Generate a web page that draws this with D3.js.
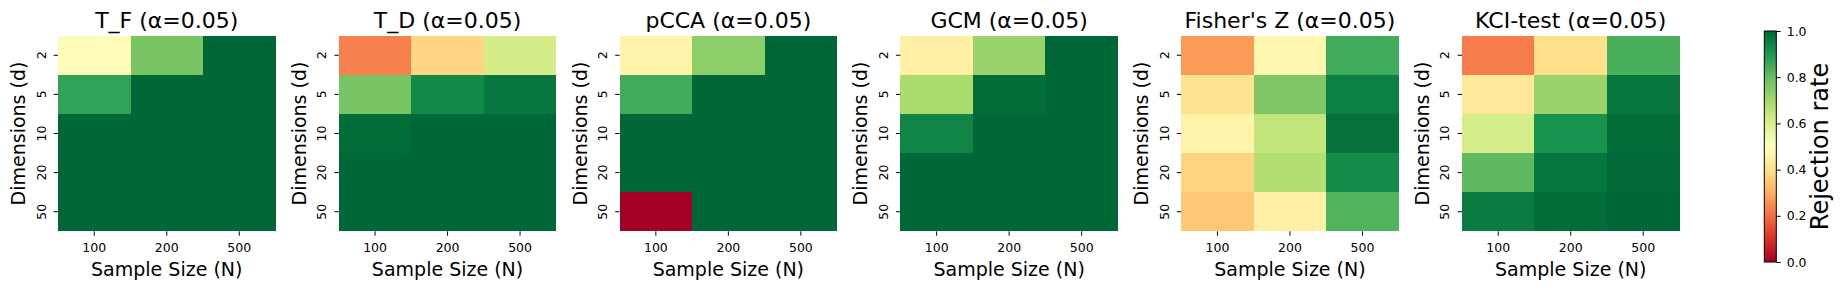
<!DOCTYPE html>
<html>
<head>
<meta charset="utf-8">
<script src="https://cdn.jsdelivr.net/npm/d3@7"></script>
<style>
  body { margin: 0; background: #fff; }
  text { font-family: "DejaVu Sans", sans-serif; fill: #000; }
  .tick text { font-size: 12.5px; }
</style>
</head>
<body>
<div id="chart"></div>
<script>
// sample sizes (columns) and dimensions (rows)
var sampleSizes = ["100", "200", "500"];
var dimensions = ["2", "5", "10", "20", "50"];
var methods = ["T_F", "T_D", "pCCA", "GCM", "Fisher's Z", "KCI-test"];

// rejection rates, one row per dimension
var tfRates = [
  [0.49, 0.77, 1.00],
  [0.87, 1.00, 1.00],
  [1.00, 1.00, 1.00],
  [1.00, 1.00, 1.00],
  [1.00, 1.00, 1.00]
];
var tdRates = [
  [0.23, 0.38, 0.61],
  [0.77, 0.93, 0.97],
  [0.99, 1.00, 1.00],
  [1.00, 1.00, 1.00],
  [1.00, 1.00, 1.00]
];
var pccaRates = [
  [0.46, 0.74, 1.00],
  [0.85, 1.00, 1.00],
  [1.00, 1.00, 1.00],
  [1.00, 1.00, 1.00],
  [0.00, 1.00, 1.00]
];
var gcmRates = [
  [0.45, 0.72, 1.00],
  [0.69, 0.99, 1.00],
  [0.94, 1.00, 1.00],
  [1.00, 1.00, 1.00],
  [1.00, 1.00, 1.00]
];
var fisherRates = [
  [0.27, 0.47, 0.85],
  [0.41, 0.76, 0.95],
  [0.46, 0.645, 0.98],
  [0.376, 0.676, 0.927],
  [0.35, 0.45, 0.826]
];
var kciRates = [
  [0.225, 0.40, 0.837],
  [0.43, 0.72, 0.97],
  [0.606, 0.91, 0.99],
  [0.81, 0.97, 0.995],
  [0.96, 0.99, 1.00]
];
var allRates = [tfRates, tdRates, pccaRates, gcmRates, fisherRates, kciRates];
var colorbarTicks = [0, 0.2, 0.4, 0.6, 0.8, 1.0];

// matplotlib RdYlGn stops
var rdylgn = ["#a50026", "#d73027", "#f46d43", "#fdae61", "#fee08b", "#ffffbf",
              "#d9ef8b", "#a6d96a", "#66bd63", "#1a9850", "#006837"];
var color = d3.scaleLinear()
    .domain(d3.range(11).map(function(i) { return i / 10; }))
    .range(rdylgn)
    .interpolate(d3.interpolateRgb)
    .clamp(true);

var width = 1846, height = 290;
var heatTop = 35.7, heatBottom = 231.3;

var svg = d3.select("#chart")
    .append("svg")
    .attr("width", width)
    .attr("height", height);

var panel = d3.scaleBand()
    .domain(methods)
    .range([58, 1679.5])
    .paddingInner(0.2254)
    .paddingOuter(0);

var x = d3.scaleBand().domain(sampleSizes).range([0, panel.bandwidth()]);
var y = d3.scaleBand().domain(dimensions).range([heatTop, heatBottom]);

methods.forEach(function(m, k) {
    var g = svg.append("g")
        .attr("transform", "translate(" + panel(m) + ",0)");

    var cells = [];
    allRates[k].forEach(function(row, i) {
        row.forEach(function(v, j) {
            cells.push({ dim: dimensions[i], n: sampleSizes[j], value: v });
        });
    });

    g.selectAll("rect.cell")
        .data(cells)
        .enter()
        .append("rect")
        .attr("class", "cell")
        .attr("x", function(d) { return x(d.n); })
        .attr("y", function(d) { return y(d.dim); })
        .attr("width", x.bandwidth())
        .attr("height", y.bandwidth())
        .attr("shape-rendering", "crispEdges")
        .style("fill", function(d) { return color(d.value); });

    // x axis
    var xAxis = g.append("g")
        .attr("transform", "translate(0," + heatBottom + ")")
        .call(d3.axisBottom(x).tickSize(4.4).tickSizeOuter(0).tickPadding(7.7));
    xAxis.select(".domain").remove();
    xAxis.selectAll("line").attr("stroke", "#000").attr("stroke-width", 1);

    // y axis, labels turned on their side like seaborn
    var yAxis = g.append("g")
        .call(d3.axisLeft(y).tickSize(4.4).tickSizeOuter(0));
    yAxis.select(".domain").remove();
    yAxis.selectAll("line").attr("stroke", "#000").attr("stroke-width", 1);
    yAxis.selectAll("text")
        .attr("x", null)
        .attr("dy", null)
        .attr("text-anchor", "middle")
        .attr("transform", "translate(-12.5,0) rotate(-90)");

    g.append("text")
        .attr("x", panel.bandwidth() / 2)
        .attr("y", 27.7)
        .attr("text-anchor", "middle")
        .style("font-size", "22px")
        .text(m + " (α=0.05)");

    g.append("text")
        .attr("x", panel.bandwidth() / 2)
        .attr("y", 276)
        .attr("text-anchor", "middle")
        .style("font-size", "19px")
        .text("Sample Size (N)");

    g.append("text")
        .attr("transform", "translate(-33," + (heatTop + heatBottom) / 2 + ") rotate(-90)")
        .attr("text-anchor", "middle")
        .style("font-size", "19px")
        .text("Dimensions (d)");
});

// colorbar
var cbX = 1764.3, cbW = 12, cbTop = 31, cbBottom = 262;
var cbScale = d3.scaleLinear().domain([0, 1]).range([cbBottom, cbTop]);

var grad = svg.append("defs").append("linearGradient")
    .attr("id", "cbGrad")
    .attr("x1", 0).attr("y1", 1).attr("x2", 0).attr("y2", 0);
grad.selectAll("stop")
    .data(d3.range(0, 1.001, 0.02))
    .enter()
    .append("stop")
    .attr("offset", function(d) { return d; })
    .attr("stop-color", function(d) { return color(d); });

svg.append("rect")
    .attr("x", cbX)
    .attr("y", cbTop)
    .attr("width", cbW)
    .attr("height", cbBottom - cbTop)
    .style("fill", "url(#cbGrad)")
    .attr("stroke", "#000")
    .attr("stroke-width", 1);

var cbAxis = svg.append("g")
    .attr("transform", "translate(" + (cbX + cbW) + ",0)")
    .call(d3.axisRight(cbScale)
        .tickValues(colorbarTicks)
        .tickFormat(d3.format(".1f"))
        .tickSize(4.4)
        .tickSizeOuter(0)
        .tickPadding(6));
cbAxis.select(".domain").remove();
cbAxis.selectAll("line").attr("stroke", "#000").attr("stroke-width", 1);

svg.append("text")
    .attr("transform", "translate(1828," + (cbTop + cbBottom) / 2 + ") rotate(-90)")
    .attr("text-anchor", "middle")
    .style("font-size", "24px")
    .text("Rejection rate");
</script>
</body>
</html>
